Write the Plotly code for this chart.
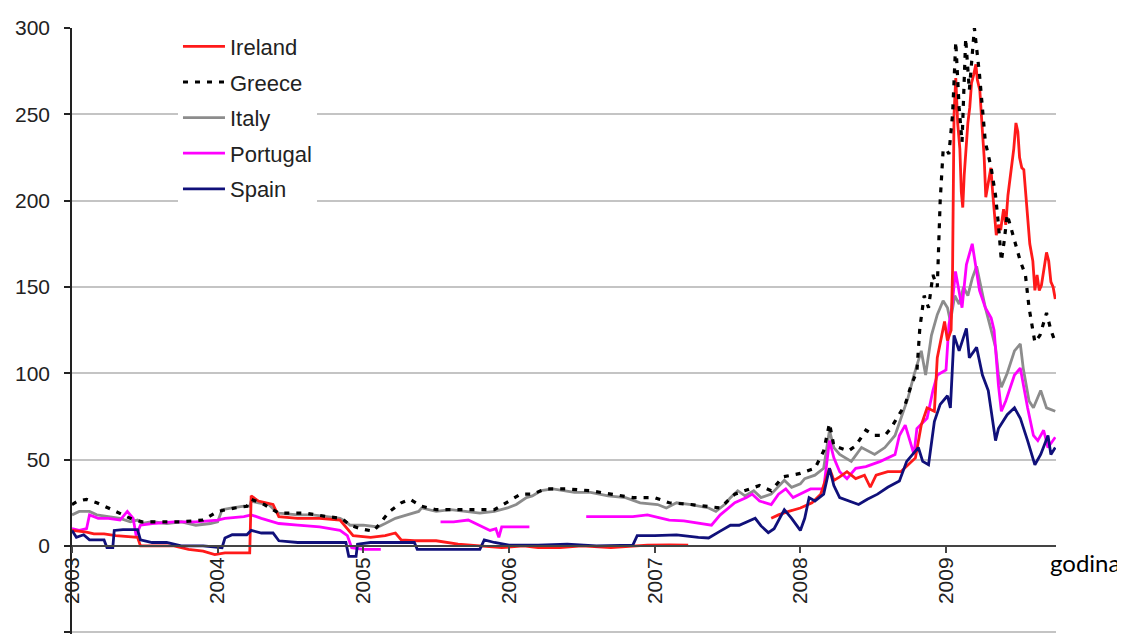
import plotly.graph_objects as go

# ---------------- data (decimal years, spread in basis points) ----------------
years = [2003, 2004, 2005, 2006, 2007, 2008, 2009]
year_labels = ["2003", "2004", "2005", "2006", "2007", "2008", "2009"]

italy_t = [2003.00, 2003.05, 2003.12, 2003.17, 2003.25, 2003.33, 2003.40, 2003.45, 2003.48, 2003.55,
           2003.65, 2003.75, 2003.85, 2003.95, 2004.00, 2004.03, 2004.10, 2004.18, 2004.22, 2004.23,
           2004.28, 2004.35, 2004.40, 2004.42, 2004.55, 2004.65, 2004.75, 2004.84, 2004.88, 2004.91,
           2005.00, 2005.10, 2005.15, 2005.22, 2005.30, 2005.38, 2005.40, 2005.50, 2005.60, 2005.70,
           2005.80, 2005.90, 2005.99, 2006.05, 2006.12, 2006.16, 2006.22, 2006.30, 2006.38, 2006.45,
           2006.56, 2006.68, 2006.80, 2006.90, 2007.02, 2007.08, 2007.15, 2007.25, 2007.37, 2007.42,
           2007.48, 2007.52, 2007.57, 2007.62, 2007.68, 2007.73, 2007.80, 2007.89, 2007.94, 2008.00,
           2008.03, 2008.10, 2008.16, 2008.20, 2008.23, 2008.27, 2008.35, 2008.42, 2008.51, 2008.58,
           2008.65, 2008.69, 2008.74, 2008.78, 2008.83, 2008.86, 2008.90, 2008.94, 2008.98, 2009.01,
           2009.03, 2009.06, 2009.09, 2009.12, 2009.15, 2009.18, 2009.21, 2009.24, 2009.27, 2009.31,
           2009.34, 2009.36, 2009.38, 2009.42, 2009.47, 2009.51, 2009.53, 2009.57, 2009.60, 2009.65,
           2009.69, 2009.75]
italy_v = [18, 20, 20, 18, 17, 16, 14, 15, 13, 14,
           13, 14, 12, 13, 14, 21, 22, 23, 23, 26,
           25, 24, 20, 19, 18, 18, 17, 16, 14, 12,
           12, 11, 13, 16, 18, 20, 22, 20, 21, 20,
           19, 20, 22, 24, 28, 29, 32, 33, 32, 31,
           31, 29, 28, 25, 24, 22, 25, 24, 22, 20,
           24, 28, 32, 29, 32, 28, 30, 38, 34, 36,
           39, 41, 45, 67, 57, 53, 49, 57, 53, 57,
           64, 74, 86, 99, 113, 99, 122, 134, 142, 138,
           130, 145, 140, 150, 145, 155, 162, 150, 138, 125,
           115, 99, 92, 100, 113, 117, 103, 84, 80, 90,
           80, 78]

greece_t = [2003.00, 2003.04, 2003.10, 2003.17, 2003.25, 2003.33, 2003.40, 2003.48, 2003.60, 2003.75,
            2003.90, 2004.00, 2004.12, 2004.20, 2004.23, 2004.32, 2004.42, 2004.60, 2004.75, 2004.85,
            2004.91, 2004.98, 2005.07, 2005.12, 2005.18, 2005.26, 2005.32, 2005.40, 2005.50, 2005.70,
            2005.90, 2006.00, 2006.08, 2006.16, 2006.25, 2006.40, 2006.56, 2006.70, 2006.85, 2007.00,
            2007.10, 2007.25, 2007.37, 2007.45, 2007.55, 2007.65, 2007.72, 2007.80, 2007.88, 2008.00,
            2008.10, 2008.16, 2008.20, 2008.23, 2008.33, 2008.38, 2008.45, 2008.51, 2008.58, 2008.62,
            2008.72, 2008.76, 2008.80, 2008.82, 2008.85, 2008.88, 2008.91, 2008.94, 2008.96, 2008.98,
            2009.00, 2009.02, 2009.045, 2009.067, 2009.09, 2009.11, 2009.135, 2009.16, 2009.18, 2009.195,
            2009.23, 2009.25, 2009.27, 2009.31, 2009.34, 2009.36, 2009.38, 2009.40, 2009.42, 2009.47,
            2009.51, 2009.545, 2009.57, 2009.59, 2009.61, 2009.645, 2009.69, 2009.72, 2009.75]
greece_v = [24, 26, 27, 25, 22, 19, 16, 14, 14, 14,
            15, 20, 22, 23, 27, 24, 19, 19, 17, 16,
            12, 10, 8.5, 14, 20, 25, 27, 23, 21, 21,
            21, 26, 30, 30, 33, 33, 32, 30, 28, 28,
            25, 24, 23, 22, 30, 33, 35, 32, 40, 42,
            45, 55, 71, 58, 55, 58, 67, 64, 64, 68,
            82, 93, 101, 126, 145, 138, 157, 150, 200, 229,
            230, 227, 250, 292, 254, 234, 294, 264, 288, 300,
            273, 254, 234, 219, 203, 186, 165, 177, 192, 177,
            165, 157, 138, 128, 118, 122, 135, 125, 118]

ireland_t = [2003.00, 2003.10, 2003.15, 2003.22, 2003.30, 2003.40, 2003.45, 2003.47, 2003.55, 2003.70,
             2003.80, 2003.90, 2003.98, 2004.05, 2004.15, 2004.22, 2004.23, 2004.28, 2004.38, 2004.42,
             2004.55, 2004.70, 2004.84, 2004.90, 2004.93, 2005.05, 2005.15, 2005.22, 2005.26, 2005.35,
             2005.50, 2005.65, 2005.80, 2005.95, 2006.10, 2006.20, 2006.35, 2006.50, 2006.70, 2006.85,
             2006.95, 2007.10, 2007.23, None, 2007.80, 2007.85, 2007.92, 2008.00, 2008.08, 2008.14,
             2008.20, 2008.23, 2008.27, 2008.32, 2008.38, 2008.44, 2008.48, 2008.52, 2008.60, 2008.69,
             2008.74, 2008.79, 2008.83, 2008.87, 2008.92, 2008.94, 2008.99, 2009.01, 2009.035, 2009.045,
             2009.055, 2009.067, 2009.08, 2009.095, 2009.105, 2009.115, 2009.125, 2009.136, 2009.15, 2009.163,
             2009.175, 2009.19, 2009.205, 2009.215, 2009.232, 2009.25, 2009.262, 2009.273, 2009.29, 2009.308,
             2009.32, 2009.335, 2009.345, 2009.36, 2009.375, 2009.395, 2009.41, 2009.425, 2009.445, 2009.465,
             2009.48, 2009.493, 2009.505, 2009.52, 2009.534, 2009.545, 2009.561, 2009.575, 2009.596, 2009.61,
             2009.625, 2009.64, 2009.655, 2009.67, 2009.69, 2009.705, 2009.72, 2009.735, 2009.75]
ireland_v = [9, 8, 7, 7, 6, 5.5, 5, 0, 0, 0,
             -2, -3, -5, -4, -4, -4, 29, 26, 24, 17,
             16, 16, 15, 9, 6, 5, 6, 7.5, 3.5, 3,
             3, 1, 0, -1, 0, -1, -1, 0, -1, 0,
             0.5, 0.6, 0.5, None, 16, 18, 20, 22, 25, 30,
             45, 38, 40, 43, 39, 41, 34, 41, 43, 43,
             47, 51, 70, 80, 78, 109, 130, 119, 125, 160,
             250, 271, 245, 230, 205, 196, 215, 231, 245, 254,
             268, 273, 279, 270, 264, 240, 225, 202, 210, 219,
             205, 192, 180, 186, 183, 195, 186, 203, 215, 230,
             245, 240, 225, 219, 218, 205, 192, 175, 165, 148,
             157, 148, 151, 160, 170, 165, 153, 150, 143]

portugal_t = [2003.00, 2003.05, 2003.10, 2003.12, 2003.18, 2003.25, 2003.33, 2003.38, 2003.42, 2003.44,
              2003.47, 2003.55, 2003.70, 2003.85, 2004.00, 2004.05, 2004.18, 2004.23, 2004.30, 2004.42,
              2004.55, 2004.70, 2004.84, 2004.89, 2004.92, 2005.00, 2005.12, None, 2005.53, 2005.62,
              2005.72, 2005.80, 2005.87, 2005.91, 2005.93, 2005.95, 2006.05, 2006.14, None, 2006.53,
              2006.70, 2006.85, 2006.95, 2007.10, 2007.20, 2007.39, 2007.45, 2007.55, 2007.63, 2007.67,
              2007.72, 2007.80, 2007.85, 2007.90, 2007.95, 2008.00, 2008.07, 2008.16, 2008.20, 2008.23,
              2008.27, 2008.32, 2008.38, 2008.45, 2008.55, 2008.65, 2008.68, 2008.72, 2008.78, 2008.80,
              2008.87, 2008.91, 2008.94, 2009.00, 2009.02, 2009.04, 2009.065, 2009.11, 2009.14, 2009.18,
              2009.21, 2009.23, 2009.27, 2009.31, 2009.33, 2009.36, 2009.38, 2009.41, 2009.47, 2009.51,
              2009.56, 2009.60, 2009.63, 2009.67, 2009.70, 2009.75]
portugal_v = [10, 9, 10, 18, 16, 16, 15, 20, 16, 6,
              12, 13, 14, 14, 15, 16, 17, 18, 16, 13,
              12, 11, 9, 6, -1, -2, -2, None, 14, 14,
              15, 12, 9, 10, 5, 11, 11, 11, None, 17,
              17, 17, 18, 15, 14.5, 12, 18, 25, 28, 30,
              26, 24, 30, 33, 28, 30, 33, 33, 61, 51,
              43, 39, 45, 46, 49, 53, 64, 70, 53, 68,
              74, 90, 99, 102, 128, 138, 159, 138, 163, 175,
              157, 148, 138, 132, 125, 93, 78, 84, 99, 103,
              80, 64, 61, 67, 57, 63]

spain_t = [2003.00, 2003.03, 2003.08, 2003.12, 2003.22, 2003.24, 2003.28, 2003.29, 2003.35, 2003.45,
           2003.47, 2003.55, 2003.65, 2003.75, 2003.90, 2004.00, 2004.03, 2004.05, 2004.10, 2004.20,
           2004.23, 2004.30, 2004.38, 2004.42, 2004.55, 2004.70, 2004.88, 2004.90, 2004.95, 2004.96,
           2005.05, 2005.20, 2005.35, 2005.37, 2005.55, 2005.70, 2005.80, 2005.83, 2005.90, 2006.00,
           2006.20, 2006.40, 2006.60, 2006.85, 2006.88, 2007.00, 2007.15, 2007.30, 2007.37, 2007.45,
           2007.52, 2007.58, 2007.69, 2007.73, 2007.78, 2007.82, 2007.89, 2007.94, 2008.00, 2008.03,
           2008.06, 2008.10, 2008.16, 2008.20, 2008.23, 2008.27, 2008.33, 2008.40, 2008.46, 2008.53,
           2008.60, 2008.68, 2008.73, 2008.77, 2008.81, 2008.84, 2008.88, 2008.92, 2008.96, 2009.01,
           2009.03, 2009.055, 2009.09, 2009.14, 2009.16, 2009.21, 2009.25, 2009.29, 2009.34, 2009.36,
           2009.42, 2009.47, 2009.51, 2009.56, 2009.61, 2009.65, 2009.70, 2009.72, 2009.75]
spain_v = [9, 5, 6.5, 3.5, 3.5, -1, -1, 9, 9.5, 9.5,
           3.5, 2, 2, 0, 0, -1, -1, 4.6, 6.5, 6.5,
           9, 7.5, 7.5, 3, 2, 2, 2, -6, -6, 1,
           2, 2, 2, -2, -2, -2, -2, 3.5, 2, 0.5,
           0.5, 1, 0, 0.5, 6, 6, 6.4, 5, 4.6, 8.6,
           12, 12, 16, 11.6, 7.7, 10, 21, 16, 9, 16,
           28, 26, 30, 45, 35, 28, 26, 24, 27, 30,
           34, 37.6, 49, 53, 57, 49, 47, 72, 82, 87,
           80, 122, 113, 126, 109, 115, 99, 90, 61, 68,
           76, 80, 74, 61, 47, 53, 64, 53, 57]

y_min, y_max = -50, 300

# ---------------- figure ----------------
fig = go.Figure()

series = [
    ("Italy", italy_t, italy_v, dict(color="#8c8c8c", width=2.8), 3),
    ("Portugal", portugal_t, portugal_v, dict(color="#ff00ff", width=2.8), 4),
    ("Ireland", ireland_t, ireland_v, dict(color="#ff1a1a", width=2.8), 1),
    ("Greece", greece_t, greece_v, dict(color="#000000", width=3.2, dash="5px,7px"), 2),
    ("Spain", spain_t, spain_v, dict(color="#10107a", width=2.8), 5),
]
for name, t, v, line, rank in series:
    fig.add_trace(go.Scatter(x=t, y=v, mode="lines", name=name, line=line,
                             legendrank=rank, legendgroup=name, connectgaps=False))

tick_font = dict(family="Liberation Sans, Arial, sans-serif", size=21, color="#222222")

fig.update_layout(
    width=1125, height=634,
    margin=dict(l=64, r=77, t=20, b=8),
    paper_bgcolor="white", plot_bgcolor="white",
    showlegend=True,
    legend=dict(x=0.1077, y=1.004, xanchor="left", yanchor="top",
                bgcolor="white", borderwidth=0,
                font=dict(family="Liberation Sans, Arial, sans-serif", size=22, color="#222222"),
                tracegroupgap=4, itemwidth=42),
    xaxis=dict(range=[2003, 2009.755], tickmode="array", tickvals=years, ticktext=year_labels,
               tickangle=-90, anchor="free", position=51 / 351, showgrid=False, zeroline=False,
               showline=True, linecolor="#444444", linewidth=2,
               ticks="outside", ticklen=6, tickcolor="#444444", tickwidth=1.5,
               tickfont=tick_font, ticklabelstandoff=-4, automargin=False),
    yaxis=dict(range=[y_min - 1, y_max], dtick=50, tick0=0, showgrid=True, gridcolor="#c4c4c4",
               gridwidth=1.5, zeroline=False, showline=True, linecolor="#222222", linewidth=1.5,
               ticks="outside", ticklen=6, tickcolor="#222222", tickwidth=1.5,
               tickfont=tick_font, ticklabelstandoff=10, automargin=False),
    shapes=[dict(type="line", xref="paper", yref="y", x0=0, x1=1, y0=y_min, y1=y_min,
                 line=dict(color="#c4c4c4", width=1.5), layer="below")],
    annotations=[dict(text="godina", xref="paper", yref="paper", x=1.0295, y=0.118,
                      xanchor="center", yanchor="middle", showarrow=False,
                      font=dict(family="Lato, Open Sans, sans-serif", size=24, color="#000000"))],
)

fig.write_html("out.html")
